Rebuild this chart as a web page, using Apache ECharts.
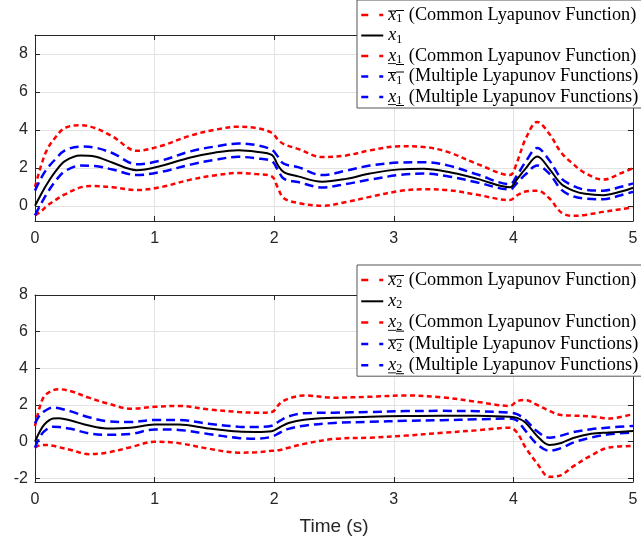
<!DOCTYPE html>
<html>
<head>
<meta charset="utf-8">
<script src="https://cdn.jsdelivr.net/npm/echarts@6/dist/echarts.min.js"></script>
<style>html,body{margin:0;padding:0;background:#fff}#c{width:641px;height:544px}</style>
</head>
<body>
<div id="c"></div>
<script>
// ---------- data ----------
const T1 = [0,0.05,0.1,0.17,0.25,0.38,0.5,0.65,0.85,1.05,1.3,1.5,1.7,1.85,1.98,2.03,2.08,2.2,2.4,2.6,2.8,3.05,3.25,3.45,3.7,3.97,4.03,4.1,4.2,4.3,4.4,4.5,4.6,4.75,4.9,5.0];
const x1    = [0,0.6,1.15,1.8,2.35,2.65,2.6,2.27,1.88,2.1,2.55,2.8,2.93,2.85,2.68,2.15,1.78,1.55,1.27,1.42,1.7,1.92,1.95,1.79,1.42,0.98,1.4,1.95,2.6,1.95,1.15,0.8,0.63,0.56,0.75,0.95];
const x1UpC = [1.0,2.1,2.95,3.6,4.1,4.25,4.1,3.65,2.9,3.15,3.7,4.0,4.17,4.1,3.85,3.5,3.25,3.0,2.57,2.65,2.92,3.14,3.1,2.84,2.2,1.62,2.3,3.5,4.42,3.8,2.8,2.2,1.72,1.38,1.72,1.98];
const x1LoC = [-0.5,-0.3,0.0,0.3,0.6,0.97,1.04,0.98,0.83,0.98,1.38,1.6,1.73,1.67,1.55,0.95,0.4,0.15,0.0,0.2,0.47,0.78,0.87,0.83,0.58,0.3,0.55,0.75,0.8,0.4,-0.35,-0.53,-0.48,-0.32,-0.18,-0.08];
const x1UpM = [0.8,1.45,1.95,2.45,2.92,3.12,3.07,2.77,2.19,2.38,2.87,3.12,3.28,3.2,2.95,2.6,2.22,2.04,1.62,1.85,2.12,2.28,2.3,2.13,1.65,1.14,1.6,2.3,3.05,2.4,1.45,1.05,0.85,0.8,1.0,1.18];
const x1LoM = [-0.5,0.1,0.65,1.3,1.82,2.12,2.1,1.91,1.62,1.78,2.17,2.42,2.58,2.5,2.35,1.9,1.43,1.25,0.97,1.15,1.38,1.63,1.7,1.56,1.23,0.86,1.2,1.65,2.12,1.7,0.85,0.5,0.38,0.35,0.56,0.74];

const T2 = [0,0.04,0.08,0.15,0.2,0.3,0.45,0.6,0.8,1.0,1.2,1.45,1.7,1.85,1.98,2.05,2.12,2.25,2.5,2.8,3.1,3.4,3.7,3.97,4.03,4.1,4.2,4.3,4.4,4.5,4.65,4.8,5.0];
const x2    = [0,0.55,0.95,1.26,1.28,1.15,0.88,0.72,0.76,0.93,0.93,0.72,0.55,0.53,0.57,0.8,1.02,1.2,1.3,1.36,1.4,1.42,1.41,1.36,1.3,1.05,0.3,-0.18,-0.07,0.2,0.43,0.5,0.58];
const x2UpC = [0.85,1.9,2.5,2.8,2.86,2.75,2.4,2.1,1.8,1.9,1.95,1.76,1.62,1.58,1.62,2.1,2.35,2.52,2.4,2.45,2.52,2.42,2.17,1.95,2.2,2.27,2.0,1.68,1.45,1.42,1.38,1.27,1.5];
const x2LoC = [-0.33,-0.2,-0.18,-0.22,-0.3,-0.45,-0.68,-0.6,-0.3,0.0,-0.08,-0.38,-0.6,-0.58,-0.5,-0.45,-0.33,-0.12,0.15,0.22,0.33,0.48,0.62,0.76,0.5,-0.3,-1.2,-1.92,-1.82,-1.35,-0.75,-0.32,-0.24];
const x2UpM = [1.0,1.45,1.67,1.86,1.82,1.65,1.33,1.12,1.07,1.18,1.18,0.98,0.82,0.8,0.87,1.15,1.38,1.55,1.58,1.62,1.67,1.68,1.66,1.58,1.5,1.2,0.55,0.22,0.33,0.52,0.68,0.77,0.86];
const x2LoM = [-0.33,0.25,0.58,0.82,0.8,0.7,0.45,0.38,0.42,0.67,0.64,0.42,0.2,0.16,0.27,0.5,0.7,0.87,1.02,1.08,1.14,1.17,1.22,1.26,1.15,0.6,-0.15,-0.5,-0.35,-0.05,0.22,0.4,0.5];

const xTicks  = [0,1,2,3,4,5];
const y1Ticks = [0,2,4,6,8];
const y2Ticks = [-2,0,2,4,6,8];
const xLabelName = 'Time (s)';

// ---------- helpers ----------
const zip = (t, v) => t.map((x, i) => [x, v[i]]);
function lineImg(yPos) {
  const c = document.createElement('canvas');
  c.width = 8; c.height = 20;
  const ctx = c.getContext('2d');
  ctx.fillStyle = '#000';
  ctx.fillRect(0, yPos, 8, 1);
  return c;
}
const OV = lineImg(5), UN = lineImg(18);
const SERIF = 'Liberation Serif';
const rich = {
  ox: { fontFamily: SERIF, fontStyle: 'italic', fontSize: 18, lineHeight: 20, color: '#000', backgroundColor: { image: OV } },
  os: { fontFamily: SERIF, fontSize: 12, lineHeight: 12, padding: [8, 0, 0, 0], color: '#000', backgroundColor: { image: OV } },
  ux: { fontFamily: SERIF, fontStyle: 'italic', fontSize: 18, lineHeight: 20, color: '#000', backgroundColor: { image: UN } },
  us: { fontFamily: SERIF, fontSize: 12, lineHeight: 12, padding: [8, 0, 0, 0], color: '#000', backgroundColor: { image: UN } },
  px: { fontFamily: SERIF, fontStyle: 'italic', fontSize: 18, lineHeight: 20, color: '#000' },
  ps: { fontFamily: SERIF, fontSize: 12, lineHeight: 12, padding: [8, 0, 0, 0], color: '#000' }
};
const CL = ' (Common Lyapunov Function)';
const ML = ' (Multiple Lyapunov Functions)';
const labels = {
  'x1U_C': '{ox|x}{os|1}' + CL, 'x1': '{px|x}{ps|1}', 'x1L_C': '{ux|x}{us|1}' + CL,
  'x1U_M': '{ox|x}{os|1}' + ML, 'x1L_M': '{ux|x}{us|1}' + ML,
  'x2U_C': '{ox|x}{os|2}' + CL, 'x2': '{px|x}{ps|2}', 'x2L_C': '{ux|x}{us|2}' + CL,
  'x2U_M': '{ox|x}{os|2}' + ML, 'x2L_M': '{ux|x}{us|2}' + ML
};

const RED = { color: '#ff0000', width: 2.5, type: [5, 3.5] };
const BLUE = { color: '#0000ff', width: 2.5, type: [9, 5] };
const BLACK = { color: '#000000', width: 2, type: 'solid' };

function mkSeries(name, g, t, v, ls, z) {
  return {
    name, type: 'line', xAxisIndex: g * 2, yAxisIndex: g * 2,
    data: zip(t, v), showSymbol: false, symbol: 'none', smooth: 0.35,
    lineStyle: ls, itemStyle: { color: ls.color }, z: z || 2, animation: false
  };
}

const AX = '#262626';
function xAxis(g, pos, withLabels) {
  return {
    type: 'value', gridIndex: g, position: pos, min: 0, max: 5, interval: 1,
    axisLine: { show: true, onZero: false, lineStyle: { color: AX, width: 1 } },
    axisTick: { show: true, inside: true, length: 5, lineStyle: { color: AX } },
    axisLabel: { show: withLabels, color: AX, fontSize: 16, fontFamily: 'Liberation Sans', margin: 10, customValues: xTicks },
    splitLine: { show: withLabels, lineStyle: { color: '#e3e3e3', width: 1 } }
  };
}
function yAxis(g, pos, mn, mx, ticks, withLabels) {
  return {
    type: 'value', gridIndex: g, position: pos, min: mn, max: mx,
    axisLine: { show: true, onZero: false, lineStyle: { color: AX, width: 1 } },
    axisTick: { show: true, inside: true, length: 5, lineStyle: { color: AX }, customValues: ticks },
    axisLabel: { show: withLabels, color: AX, fontSize: 16, fontFamily: 'Liberation Sans', margin: 7, customValues: ticks },
    splitLine: { show: withLabels, lineStyle: { color: '#e3e3e3', width: 1 } }
  };
}

const legendCommon = {
  orient: 'vertical', left: 357, itemWidth: 22, itemHeight: 14, itemGap: 0.5,
  padding: [5, 14, 1, 3], backgroundColor: '#fff', borderColor: '#555', borderWidth: 1, borderRadius: 0,
  itemStyle: { opacity: 0 },
  textStyle: { fontFamily: SERIF, fontSize: 18.3, lineHeight: 20, color: '#000', rich },
  formatter: n => labels[n], z: 10
};
const legDash = { type: [7, 11], width: 2.5 };
const legSolid = { type: 'solid', width: 2 };
const chart = echarts.init(document.getElementById('c'), null, { renderer: 'canvas' });
chart.setOption({
  animation: false,
  backgroundColor: '#fff',
  grid: [
    { left: 35, right: 8, top: 35, height: 186, outerBoundsMode: 'none' },
    { left: 35, right: 8, top: 295, height: 187, outerBoundsMode: 'none' }
  ],
  xAxis: [
    xAxis(0, 'bottom', true), xAxis(0, 'top', false),
    Object.assign(xAxis(1, 'bottom', true), { name: xLabelName, nameLocation: 'middle', nameGap: 35,
      nameTextStyle: { fontSize: 19, color: AX, fontFamily: 'Liberation Sans' } }),
    xAxis(1, 'top', false)
  ],
  yAxis: [
    yAxis(0, 'left', -0.8, 9, y1Ticks, true), yAxis(0, 'right', -0.8, 9, y1Ticks, false),
    yAxis(1, 'left', -2.2, 8, y2Ticks, true), yAxis(1, 'right', -2.2, 8, y2Ticks, false)
  ],
  legend: [
    Object.assign({}, legendCommon, { top: 0, data: [
      { name: 'x1U_C', lineStyle: legDash }, { name: 'x1', lineStyle: legSolid }, { name: 'x1L_C', lineStyle: legDash },
      { name: 'x1U_M', lineStyle: legDash }, { name: 'x1L_M', lineStyle: legDash } ] }),
    Object.assign({}, legendCommon, { top: 265, itemGap: 1.3, data: [
      { name: 'x2U_C', lineStyle: legDash }, { name: 'x2', lineStyle: legSolid }, { name: 'x2L_C', lineStyle: legDash },
      { name: 'x2U_M', lineStyle: legDash }, { name: 'x2L_M', lineStyle: legDash } ] })
  ],
  series: [
    mkSeries('x1U_C', 0, T1, x1UpC, RED), mkSeries('x1', 0, T1, x1, BLACK, 3),
    mkSeries('x1L_C', 0, T1, x1LoC, RED), mkSeries('x1U_M', 0, T1, x1UpM, BLUE), mkSeries('x1L_M', 0, T1, x1LoM, BLUE),
    mkSeries('x2U_C', 1, T2, x2UpC, RED), mkSeries('x2', 1, T2, x2, BLACK, 3),
    mkSeries('x2L_C', 1, T2, x2LoC, RED), mkSeries('x2U_M', 1, T2, x2UpM, BLUE), mkSeries('x2L_M', 1, T2, x2LoM, BLUE)
  ]
});
</script>
</body>
</html>
